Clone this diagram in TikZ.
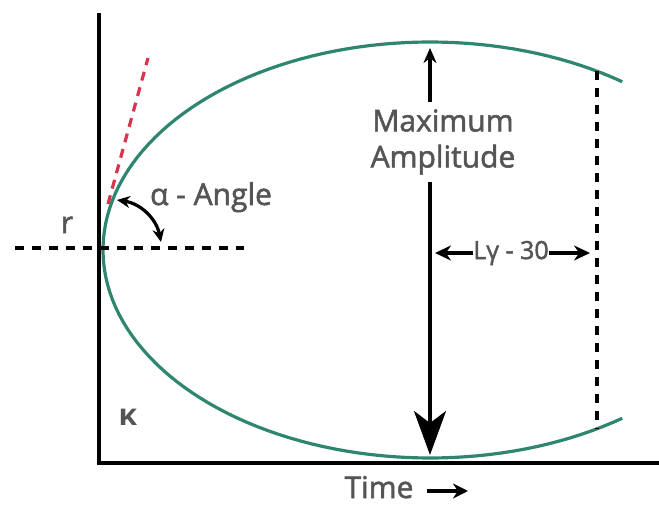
\documentclass[tikz,border=0pt]{standalone}
\usepackage{fontspec}
\setmainfont{Open Sans}
\newfontfamily\lblfont{Open Sans}[FakeBold=1.8]
\usepackage{xcolor}
\usetikzlibrary{positioning, arrows.meta}

\definecolor{curvegreen}{RGB}{46,134,112}
\definecolor{tangentred}{RGB}{218,52,76}
\definecolor{labelgray}{RGB}{85,85,85}

\begin{document}
\begin{tikzpicture}[x=1pt, y=-1pt,
    axisline/.style={line width=3.5pt, black, line join=miter},
    dashline/.style={line width=3.2pt, black, dash pattern=on 9pt off 8pt},
    arrowline/.style={line width=3.2pt, black},
    lbl/.style={text=labelgray, font=\lblfont\fontsize{30}{36}\selectfont, inner sep=0pt}]
\useasboundingbox (0,0) rectangle (659,505);

% Axes
\coordinate (ytop) at (99,13);
\coordinate (origin) at (99,463);
\coordinate (xend) at (659,463);
\draw[axisline] (ytop) -- (origin) -- (xend);

% Wave envelope
\draw[line width=3.2pt, curvegreen] plot[domain=54:306, samples=120]
      ({430+327*cos(\x)}, {250+208*sin(\x)});

% Tangent and reference lines
\coordinate (tanlow) at (108,204);
\coordinate (tanhigh) at (148,58);
\draw[line width=3.2pt, tangentred, dash pattern=on 9pt off 7pt] (tanlow) -- (tanhigh);

\coordinate (hleft) at (15,248);
\coordinate (hright) at (244,248);
\draw[dashline] (hleft) -- (hright);

\coordinate (vtop) at (597,71);
\coordinate (vbot) at (597,429);
\draw[dashline] (vtop) -- (vbot);

% Angle
\coordinate (angtop) at (117,200);
\coordinate (angbot) at (161,242);
\draw[arrowline, {Stealth[length=13pt, width=12pt]}-{Stealth[length=13pt, width=12pt]}]
      (angtop) to[bend left=35] (angbot);
\node[lbl, anchor=base] (alpha) at (211,205) {α - Angle};
\node[lbl, anchor=base] (rlbl) at (67,233) {r};
\node[lbl, anchor=base, font=\fontsize{30}{36}\selectfont\bfseries] (kappa) at (128,425) {κ};

% Maximum amplitude
\node[lbl, align=center, inner ysep=7pt] (maxamp) at (443,142) {Maximum\\Amplitude};
\coordinate (amptop) at (430,48);
\coordinate (ampbot) at (430,455);
\draw[arrowline, -{Stealth[length=15pt, width=13pt]}] (maxamp.north -| amptop) -- (amptop);
\draw[arrowline, -{Stealth[length=44pt, width=32pt, inset=12pt]}] (maxamp.south -| ampbot) -- (ampbot);

% L gamma span
\node[lbl, font=\lblfont\fontsize{25}{30}\selectfont] (lgamma) at (511,253) {Lγ - 30};
\coordinate (lgleft) at (435,253);
\coordinate (lgright) at (590,253);
\draw[arrowline, -{Stealth[length=16pt, width=15pt]}] (lgamma.west) -- (lgleft);
\draw[arrowline, -{Stealth[length=16pt, width=15pt]}] (lgamma.east) -- (lgright);

% Time axis label
\node[lbl, anchor=base] (time) at (379,498) {Time};
\coordinate (timetip) at (468,491);
\draw[arrowline, -{Stealth[length=15pt, width=15pt]}, shorten <=13pt] (time.east |- timetip) -- (timetip);

\end{tikzpicture}
\end{document}
